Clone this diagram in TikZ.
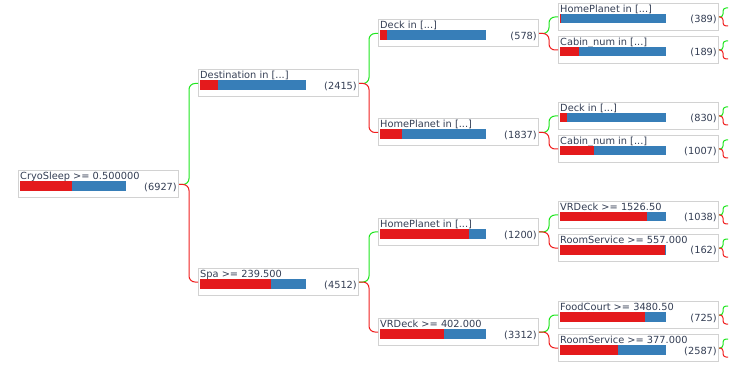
\documentclass[tikz,border=0pt]{standalone}
\usepackage{fontspec}
\setmainfont{DejaVu Sans}
\definecolor{txtgray}{RGB}{52,62,84}
\definecolor{barred}{RGB}{228,26,28}
\definecolor{barblue}{RGB}{55,126,184}
\definecolor{boxgray}{RGB}{210,210,210}
\definecolor{yesgreen}{RGB}{30,230,30}
\definecolor{nored}{RGB}{240,30,30}

% name, x, y, label, count, red part of the bar
\newcommand{\tnode}[6]{%
  \node[treebox] (#1) at (#2,#3) {};
  \node[lbl] (#1-l) at ([shift={(2,9.5)}]#1.north west) {#4};
  \fill[barred] ([shift={(2,11)}]#1.north west) rectangle ++(#6,9.5);
  \fill[barblue] ([shift={(2+#6,11)}]#1.north west) rectangle ([shift={(108,20.5)}]#1.north west);
  \node[cnt] (#1-c) at ([shift={(-2,20)}]#1.north east) {(#5)};
}

\begin{document}
\begin{tikzpicture}[x=1pt,y=-1pt,
  treebox/.style={draw=boxgray,line width=1pt,anchor=north west,inner sep=0pt,
    minimum width=160pt,minimum height=27pt},
  lbl/.style={anchor=base west,inner sep=0pt,text=txtgray,font=\fontsize{9.8}{12}\selectfont},
  cnt/.style={anchor=base east,inner sep=0pt,text=txtgray,font=\fontsize{9.8}{12}\selectfont},
  yeslink/.style={draw=yesgreen,line width=1pt,rounded corners=6pt},
  nolink/.style={draw=nored,line width=1pt,rounded corners=6pt},
  stub/.style={rounded corners=3pt}]
  \useasboundingbox (0,0) rectangle (753,385);

  \tnode{root}{18}{170.5}{CryoSleep >= 0.500000}{6927}{52}

  \tnode{dest}{198}{69.5}{Destination in [...]}{2415}{18.3}
  \tnode{spa}{198}{268}{Spa >= 239.500}{4512}{70.7}

  \tnode{deck}{378}{19.5}{Deck in [...]}{578}{6.7}
  \tnode{hpa}{378}{118.5}{HomePlanet in [...]}{1837}{22.3}
  \tnode{hpb}{378}{218}{HomePlanet in [...]}{1200}{89.3}
  \tnode{vrd}{378}{318}{VRDeck >= 402.000}{3312}{64}

  \tnode{hpc}{558}{3}{HomePlanet in [...]}{389}{0.7}
  \tnode{cab}{558}{36}{Cabin\_num in [...]}{189}{19}
  \tnode{deckb}{558}{102}{Deck in [...]}{830}{7}
  \tnode{cabb}{558}{135}{Cabin\_num in [...]}{1007}{34.3}
  \tnode{vrdb}{558}{201}{VRDeck >= 1526.50}{1038}{87.3}
  \tnode{rs}{558}{234}{RoomService >= 557.000}{162}{104.7}
  \tnode{fc}{558}{301}{FoodCourt >= 3480.50}{725}{85.3}
  \tnode{rsb}{558}{334}{RoomService >= 377.000}{2587}{57.7}

  % branches
  \draw[yeslink] (root.east) -- ++(10,0) |- (dest.west);
  \draw[nolink] (root.east) -- ++(10,0) |- (spa.west);
  \draw[yeslink] (dest.east) -- ++(10,0) |- (deck.west);
  \draw[nolink] (dest.east) -- ++(10,0) |- (hpa.west);
  \draw[yeslink] (spa.east) -- ++(10,0) |- (hpb.west);
  \draw[nolink] (spa.east) -- ++(10,0) |- (vrd.west);
  \draw[yeslink] (deck.east) -- ++(10,0) |- (hpc.west);
  \draw[nolink] (deck.east) -- ++(10,0) |- (cab.west);
  \draw[yeslink] (hpa.east) -- ++(10,0) |- (deckb.west);
  \draw[nolink] (hpa.east) -- ++(10,0) |- (cabb.west);
  \draw[yeslink] (hpb.east) -- ++(10,0) |- (vrdb.west);
  \draw[nolink] (hpb.east) -- ++(10,0) |- (rs.west);
  \draw[yeslink] (vrd.east) -- ++(10,0) |- (fc.west);
  \draw[nolink] (vrd.east) -- ++(10,0) |- (rsb.west);

  % cut-off branches at the right edge
  \foreach \n in {hpc,cab,deckb,cabb,vrdb,rs,fc,rsb}{
    \coordinate (\n-up) at ([shift={(9,-9)}]\n.east);
    \coordinate (\n-dn) at ([shift={(9,9)}]\n.east);
    \draw[yeslink,stub] (\n.east) -- ++(4,0) |- (\n-up);
    \draw[nolink,stub] (\n.east) -- ++(4,0) |- (\n-dn);
  }
\end{tikzpicture}
\end{document}
